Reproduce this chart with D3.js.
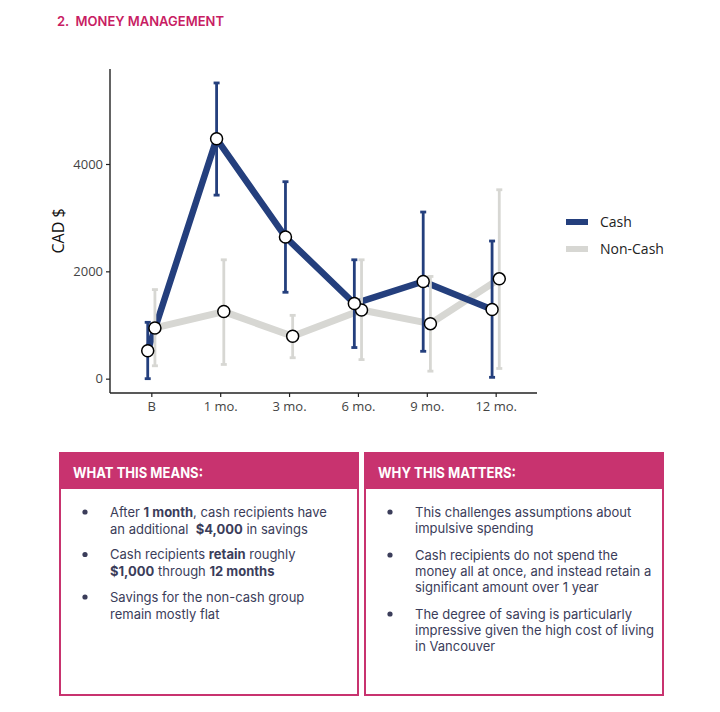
<!DOCTYPE html>
<html>
<head>
<meta charset="utf-8">
<script src="https://cdn.jsdelivr.net/npm/d3@7"></script>
<style>
  body { margin: 0; background: #fff; }
  svg { display: block; }
</style>
</head>
<body>
<div id="chart"></div>
<script>
// values
const months = ["B", "1 mo.", "3 mo.", "6 mo.", "9 mo.", "12 mo."];
const cashMean = [520, 4470, 2640, 1400, 1810, 1290];
const cashLow = [0, 3420, 1610, 580, 510, 25];
const cashHigh = [1050, 5510, 3670, 2215, 3105, 2565];
const nonCashMean = [945, 1250, 790, 1280, 1025, 1860];
const nonCashLow = [240, 265, 390, 355, 140, 190];
const nonCashHigh = [1660, 2215, 1180, 2215, 1905, 3520];
const yTicks = [0, 2000, 4000];
const seriesNames = ["Cash", "Non-Cash"];

const meansLines = [
  [[["After ", 0], ["1 month", 1], [", cash recipients have", 0]],
   [["an additional  ", 0], ["$4,000", 1], [" in savings", 0]]],
  [[["Cash recipients ", 0], ["retain", 1], [" roughly", 0]],
   [["$1,000", 1], [" through ", 0], ["12 months", 1]]],
  [[["Savings for the non-cash group", 0]],
   [["remain mostly flat", 0]]]
];
const mattersLines = [
  [[["This challenges assumptions about", 0]],
   [["impulsive spending", 0]]],
  [[["Cash recipients do not spend the", 0]],
   [["money all at once, and instead retain a", 0]],
   [["significant amount over 1 year", 0]]],
  [[["The degree of saving is particularly", 0]],
   [["impressive given the high cost of living", 0]],
   [["in Vancouver", 0]]]
];

const W = 720, H = 712;
const pink = "#c8336f";
const cashColor = "#243f7d";
const nonCashColor = "#d7d7d3";

const svg = d3.select("#chart").append("svg")
  .attr("width", W).attr("height", H);

// page title
svg.append("text")
  .attr("x", 57).attr("y", 26)
  .attr("font-family", "Inter, sans-serif")
  .attr("font-weight", 600)
  .attr("font-size", 13)
  .attr("fill", "#c81d63")
  .attr("xml:space", "preserve")
  .text("2.  MONEY MANAGEMENT");

// ---- chart ----
const x = d3.scalePoint().domain(months).range([110, 537]).padding(0.6);
const y = d3.scaleLinear().domain([-267, 5770]).range([393, 69]);
const dodge = 3.6;

const series = [
  { name: seriesNames[1], mean: nonCashMean, lo: nonCashLow, hi: nonCashHigh, color: nonCashColor, dx: dodge, w: 7 },
  { name: seriesNames[0], mean: cashMean, lo: cashLow, hi: cashHigh, color: cashColor, dx: -dodge, w: 6.5 }
];

const chartFont = "'Open Sans', 'Noto Sans', sans-serif";

// axes
const yAxis = svg.append("g").attr("transform", "translate(110,0)")
  .call(d3.axisLeft(y).tickValues(yTicks).tickSize(4).tickPadding(3).tickFormat(d3.format("d")));
yAxis.select(".domain").attr("d", `M0,${y.range()[1]}V${y.range()[0]}`);
const xAxis = svg.append("g").attr("transform", "translate(0,393)")
  .call(d3.axisBottom(x).tickSize(4).tickPadding(5));
xAxis.select(".domain").attr("d", "M110,0H537");
[yAxis, xAxis].forEach(g => {
  g.select(".domain").attr("stroke", "#222").attr("stroke-width", 1.4);
  g.selectAll(".tick line").attr("stroke", "#222").attr("stroke-width", 1.2);
  g.selectAll(".tick text").attr("fill", "#444").attr("font-size", 13).attr("font-family", chartFont);
});

svg.append("text")
  .attr("transform", "translate(63.5,231) rotate(-90)")
  .attr("text-anchor", "middle")
  .attr("font-family", chartFont)
  .attr("font-size", 16)
  .attr("fill", "#111")
  .text("CAD $");

const line = d3.line();
series.forEach(s => {
  svg.append("path")
    .attr("d", line(months.map((m, i) => [x(m) + s.dx, y(s.mean[i])])))
    .attr("fill", "none")
    .attr("stroke", s.color)
    .attr("stroke-width", s.w)
    .attr("stroke-linejoin", "round");
});

series.forEach(s => {
  const g = svg.append("g").attr("stroke", s.color).attr("stroke-width", 2.8);
  months.forEach((m, i) => {
    const cx = x(m) + s.dx;
    g.append("line").attr("x1", cx).attr("x2", cx).attr("y1", y(s.lo[i])).attr("y2", y(s.hi[i]));
    g.append("line").attr("x1", cx - 3).attr("x2", cx + 3).attr("y1", y(s.lo[i])).attr("y2", y(s.lo[i]));
    g.append("line").attr("x1", cx - 3).attr("x2", cx + 3).attr("y1", y(s.hi[i])).attr("y2", y(s.hi[i]));
  });
});

series.forEach(s => {
  svg.append("g").selectAll("circle")
    .data(s.mean)
    .join("circle")
    .attr("cx", (d, i) => x(months[i]) + s.dx)
    .attr("cy", d => y(d))
    .attr("r", 6)
    .attr("fill", "#fff")
    .attr("stroke", "#000")
    .attr("stroke-width", 1.5);
});

// legend
const legend = svg.append("g").attr("transform", "translate(566,222)");
[series[1], series[0]].forEach((s, i) => {
  const row = legend.append("g").attr("transform", `translate(0,${i * 27})`);
  row.append("line").attr("x1", 0).attr("x2", 22).attr("stroke", s.color).attr("stroke-width", 6);
  row.append("text").attr("x", 34).attr("y", 5)
    .attr("font-family", chartFont).attr("font-size", 14).attr("fill", "#222")
    .text(s.name);
});

// ---- info boxes ----
function infoBox(x0, title, titleW, bullets, lineH, gap) {
  const bw = 298, top = 453, bottom = 695, headH = 36;
  const g = svg.append("g");
  g.append("rect").attr("x", x0).attr("y", top).attr("width", bw).attr("height", bottom - top)
    .attr("fill", "#fff").attr("stroke", pink).attr("stroke-width", 2);
  g.append("rect").attr("x", x0).attr("y", top).attr("width", bw).attr("height", headH)
    .attr("fill", pink);
  g.append("text").attr("x", x0 + 13).attr("y", top + 24.5)
    .attr("font-family", "Inter, sans-serif").attr("font-weight", 700).attr("font-size", 15)
    .attr("textLength", titleW).attr("lengthAdjust", "spacingAndGlyphs")
    .attr("fill", "#fff").text(title);
  let by = 512;
  bullets.forEach(lines => {
    g.append("circle").attr("cx", x0 + 25).attr("cy", by).attr("r", 2.6).attr("fill", "#3b3d5a");
    lines.forEach((segs, li) => {
      const t = g.append("text").attr("x", x0 + 50).attr("y", by + 4.5 + li * lineH)
        .attr("xml:space", "preserve")
        .attr("font-family", "Inter, sans-serif").attr("font-size", 13).attr("fill", "#3b3d5a");
      segs.forEach(([txt, b]) => t.append("tspan").attr("font-weight", b ? 700 : 400).text(txt));
    });
    by += lines.length * lineH + gap;
  });
}
infoBox(60, "WHAT THIS MEANS:", 130, meansLines, 17, 8.5);
infoBox(365, "WHY THIS MATTERS:", 138, mattersLines, 16, 11);
</script>
</body>
</html>
